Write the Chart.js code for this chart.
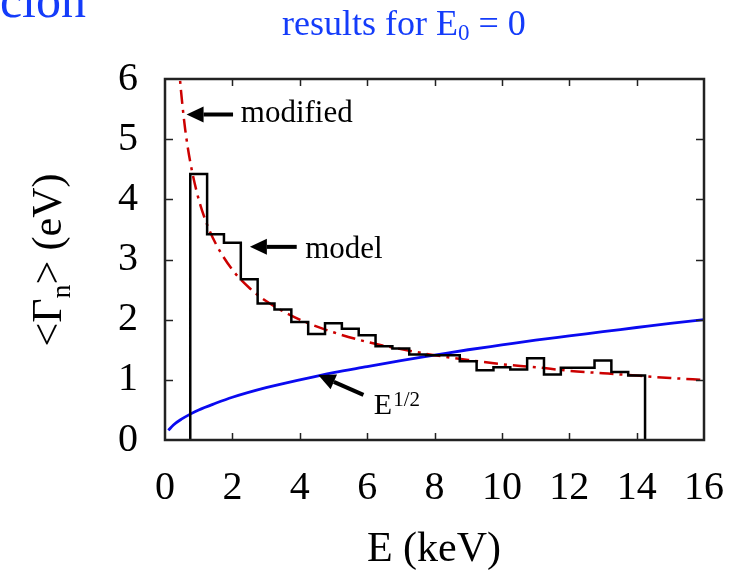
<!DOCTYPE html>
<html>
<head>
<meta charset="utf-8">
<script src="https://cdn.jsdelivr.net/npm/chart.js@4.4.1/dist/chart.umd.min.js"></script>
<style>
  body { margin: 0; background: #fff; }
  #wrap { width: 749px; height: 571px; }
</style>
</head>
<body>
<div id="wrap"><canvas id="gammaChart" width="749" height="571"></canvas></div>
<script>
// histogram: bin edges (keV) and mean width per bin (eV)
const binEdges = [0.75, 1.25, 1.75, 2.25, 2.75, 3.25, 3.75, 4.25, 4.75, 5.25, 5.75, 6.25, 6.75, 7.25,
                  7.75, 8.25, 8.75, 9.25, 9.75, 10.25, 10.75, 11.25, 11.75, 12.25, 12.75, 13.25, 13.75, 14.25];
const histValues = [4.42, 3.42, 3.28, 2.67, 2.27, 2.17, 1.96, 1.76, 1.94, 1.85, 1.74, 1.56, 1.52, 1.42,
                    1.41, 1.41, 1.31, 1.16, 1.21, 1.17, 1.36, 1.09, 1.20, 1.20, 1.32, 1.13, 1.07];

// "modified" curve (red dash-dot)
const modelE = [0.40, 0.45, 0.5, 0.6, 0.75, 1, 1.25, 1.5, 2, 2.5, 3, 4, 5, 6, 7, 8, 9, 10, 11, 12, 13, 14, 15, 16];
const modelG = [6.30, 5.96, 5.66, 5.16, 4.62, 4.00, 3.58, 3.27, 2.83, 2.53, 2.31, 2.00, 1.79, 1.63, 1.51, 1.41, 1.33, 1.26, 1.21, 1.15, 1.11, 1.07, 1.03, 1.00];

// E^1/2 curve (blue)
const sqrtE = [0.1, 0.25, 0.5, 0.75, 1, 1.5, 2, 3, 4, 5, 6, 7, 8, 9, 10, 11, 12, 13, 14, 15, 16];
const sqrtG = [0.16, 0.25, 0.35, 0.43, 0.50, 0.61, 0.71, 0.87, 1.00, 1.12, 1.22, 1.32, 1.41, 1.50, 1.58, 1.66, 1.73, 1.80, 1.87, 1.94, 2.00];

const xTicks = [0, 2, 4, 6, 8, 10, 12, 14, 16];
const yTicks = [0, 1, 2, 3, 4, 5, 6];

const serif = '"Liberation Serif", "Times New Roman", serif';

// step outline of the histogram
const histPoints = [{ x: binEdges[0], y: 0 }];
histValues.forEach((v, i) => histPoints.push({ x: binEdges[i], y: v }));
histPoints.push({ x: binEdges[binEdges.length - 1], y: 0 });

const modelPoints = modelE.map((e, i) => ({ x: e, y: modelG[i] }));
const sqrtPoints = sqrtE.map((e, i) => ({ x: e, y: sqrtG[i] }));

function drawArrow(ctx, x1, y1, x2, y2) {
    // from tail (x1,y1) to tip (x2,y2)
    const ang = Math.atan2(y2 - y1, x2 - x1);
    const headLen = 17, headHalf = 8;
    const bx = x2 - headLen * Math.cos(ang), by = y2 - headLen * Math.sin(ang);
    ctx.strokeStyle = '#000';
    ctx.lineWidth = 4;
    ctx.beginPath();
    ctx.moveTo(x1, y1);
    ctx.lineTo(bx, by);
    ctx.stroke();
    ctx.fillStyle = '#000';
    ctx.beginPath();
    ctx.moveTo(x2, y2);
    ctx.lineTo(bx + headHalf * Math.sin(ang), by - headHalf * Math.cos(ang));
    ctx.lineTo(bx - headHalf * Math.sin(ang), by + headHalf * Math.cos(ang));
    ctx.closePath();
    ctx.fill();
}

const decorations = {
    id: 'decorations',
    afterDraw(chart) {
        const ctx = chart.ctx;
        const area = chart.chartArea;
        const xs = chart.scales.x, ys = chart.scales.y;
        const px = v => xs.getPixelForValue(v);
        const py = v => ys.getPixelForValue(v);
        ctx.save();

        // frame box
        ctx.strokeStyle = '#222';
        ctx.lineWidth = 2.5;
        ctx.strokeRect(area.left, area.top, area.right - area.left, area.bottom - area.top);

        // inward tick marks on all four sides
        ctx.lineWidth = 1.5;
        ctx.beginPath();
        xTicks.slice(1, -1).forEach(v => {
            const x = Math.round(px(v)) + 0.5;
            ctx.moveTo(x, area.bottom); ctx.lineTo(x, area.bottom - 7);
            ctx.moveTo(x, area.top); ctx.lineTo(x, area.top + 7);
        });
        yTicks.slice(1, -1).forEach(v => {
            const y = Math.round(py(v)) + 0.5;
            ctx.moveTo(area.left, y); ctx.lineTo(area.left + 8, y);
            ctx.moveTo(area.right, y); ctx.lineTo(area.right - 8, y);
        });
        ctx.stroke();

        // annotations
        drawArrow(ctx, px(2.02), py(5.41), px(0.64), py(5.41));
        drawArrow(ctx, px(3.91), py(3.21), px(2.52), py(3.21));
        drawArrow(ctx, px(5.89), py(0.75), px(4.55), py(1.08));

        ctx.fillStyle = '#000';
        ctx.textAlign = 'left';
        ctx.textBaseline = 'alphabetic';
        ctx.font = '31px ' + serif;
        ctx.fillText('modified', px(2.25), py(5.28));
        ctx.fillText('model', px(4.16), py(3.02));
        ctx.font = '30px ' + serif;
        const ex = px(6.2), ey = py(0.44);
        ctx.fillText('E', ex, ey);
        const ew = ctx.measureText('E').width;
        ctx.font = '21px ' + serif;
        ctx.fillText('1/2', ex + ew + 1, ey - 8);

        // x axis title
        ctx.font = '42px ' + serif;
        ctx.textAlign = 'center';
        ctx.fillText('E (keV)', 434, 561);

        // y axis title with subscript, rotated
        ctx.save();
        ctx.translate(61, 260);
        ctx.rotate(-Math.PI / 2);
        ctx.textAlign = 'left';
        const big = '42px ' + serif, small = '28px ' + serif;
        ctx.font = big;
        const w1 = ctx.measureText('<\u0393').width;
        const w3 = ctx.measureText('> (eV)').width;
        ctx.font = small;
        const w2 = ctx.measureText('n').width;
        let x0 = -(w1 + w2 + w3) / 2;
        ctx.font = big;
        ctx.fillText('<\u0393', x0, 0);
        ctx.font = small;
        ctx.fillText('n', x0 + w1, 9);
        ctx.font = big;
        ctx.fillText('> (eV)', x0 + w1 + w2, 0);
        ctx.restore();

        // blue slide texts at the top
        ctx.fillStyle = 'rgb(20, 60, 250)';
        ctx.textAlign = 'left';
        ctx.font = '36px ' + serif;
        let tx = 282;
        ctx.fillText('results for E', tx, 35);
        tx += ctx.measureText('results for E').width;
        ctx.font = '23px ' + serif;
        ctx.fillText('0', tx, 40);
        tx += ctx.measureText('0').width;
        ctx.font = '36px ' + serif;
        ctx.fillText(' = 0', tx, 35);

        ctx.font = '50px ' + serif;
        ctx.textAlign = 'right';
        ctx.fillText('cion', 86, 17);

        ctx.restore();
    }
};

new Chart(document.getElementById('gammaChart'), {
    type: 'line',
    data: {
        datasets: [
            {
                label: 'model',
                data: histPoints,
                stepped: 'before',
                borderColor: '#000',
                borderWidth: 2.5,
                pointRadius: 0,
                fill: false
            },
            {
                label: 'modified',
                data: modelPoints,
                borderColor: '#cc0000',
                borderWidth: 2.5,
                borderDash: [14, 6, 3, 6],
                cubicInterpolationMode: 'monotone',
                pointRadius: 0,
                fill: false
            },
            {
                label: 'E^1/2',
                data: sqrtPoints,
                borderColor: '#0a0af0',
                borderWidth: 2.8,
                cubicInterpolationMode: 'monotone',
                pointRadius: 0,
                fill: false
            }
        ]
    },
    options: {
        responsive: false,
        animation: false,
        events: [],
        layout: { padding: { top: 79, right: 45, left: 0, bottom: 0 } },
        plugins: {
            legend: { display: false },
            tooltip: { enabled: false }
        },
        scales: {
            x: {
                type: 'linear',
                min: 0,
                max: 16,
                afterFit: s => { s.height = 131; },
                afterBuildTicks: s => { s.ticks = xTicks.map(v => ({ value: v })); },
                grid: { display: false, drawTicks: false },
                border: { display: false },
                ticks: {
                    font: { family: serif, size: 40 },
                    color: '#000',
                    padding: 24,
                    maxRotation: 0
                }
            },
            y: {
                type: 'linear',
                min: 0,
                max: 6,
                afterFit: s => { s.width = 165; },
                afterBuildTicks: s => { s.ticks = yTicks.map(v => ({ value: v })); },
                grid: { display: false, drawTicks: false },
                border: { display: false },
                ticks: {
                    font: { family: serif, size: 40 },
                    color: '#000',
                    padding: 27
                }
            }
        }
    },
    plugins: [decorations]
});
</script>
</body>
</html>
